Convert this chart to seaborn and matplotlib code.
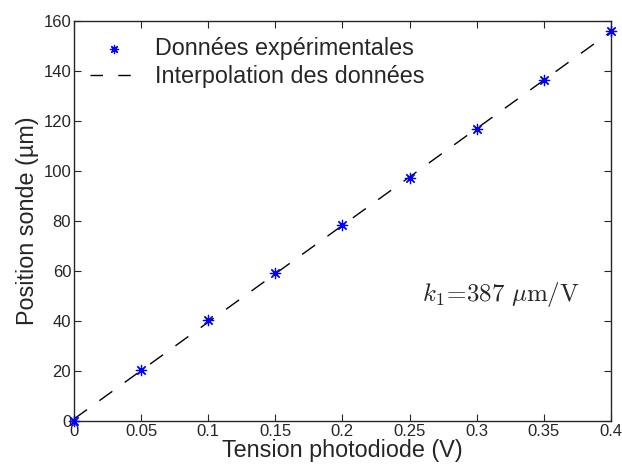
import numpy as np
import pandas as pd
import matplotlib
matplotlib.use("Agg")
import matplotlib.pyplot as plt
import seaborn as sns

tension = [0.0, 0.05, 0.10, 0.15, 0.20, 0.25, 0.30, 0.35, 0.40]
position = [0.0, 20.2, 40.2, 59.2, 78.3, 97.3, 116.6, 136.2, 156.0]
k1 = 387
xticks = [0, 0.05, 0.1, 0.15, 0.2, 0.25, 0.3, 0.35, 0.4]
xticklabels = ["0", "0.05", "0.1", "0.15", "0.2", "0.25", "0.3", "0.35", "0.4"]
yticks = [0, 20, 40, 60, 80, 100, 120, 140, 160]

df = pd.DataFrame({"x": tension, "y": position})
intercept = np.mean(position) - k1 * np.mean(tension)
fit = pd.DataFrame({"x": [tension[0], tension[-1]]})
fit["y"] = k1 * fit["x"] + intercept

sns.set_style("ticks")
plt.rcParams["font.family"] = ["Liberation Sans", "DejaVu Sans"]
plt.rcParams["mathtext.fontset"] = "cm"

fig = plt.figure(figsize=(6.22, 4.68), dpi=100)
ax = fig.add_axes([0.119, 0.1004, 0.863, 0.855])

sns.scatterplot(data=df, x="x", y="y", ax=ax, marker=(8, 2, 0), color=(0, 0, 1),
                s=55, linewidth=0.9, edgecolor=(0, 0, 1),
                label="Données expérimentales", zorder=3, clip_on=False)
sns.lineplot(data=fit, x="x", y="y", ax=ax, color="black", linewidth=1.0,
             dashes=False, label="Interpolation des données", zorder=2)
ax.lines[-1].set_dashes([11.5, 11])

ax.set_xlim(0, 0.4)
ax.set_ylim(0, 160)
ax.set_xticks(xticks)
ax.set_xticklabels(xticklabels)
ax.set_yticks(yticks)
ax.tick_params(direction="in", top=True, right=True, labelsize=12,
               length=5, width=0.8, pad=2)
for sp in ax.spines.values():
    sp.set_visible(True)
    sp.set_linewidth(1.0)
ax.set_xlabel("Tension photodiode (V)", fontsize=16.8, labelpad=0)
ax.set_ylabel("Position sonde (µm)", fontsize=16.8, labelpad=3)

ax.text(0.259, 50.5, r"$k_1\!=\!387\ \mu\mathrm{m/V}$", fontsize=18,
        va="center", ha="left")

leg = ax.legend(loc="upper left", frameon=False, fontsize=16.8,
                handlelength=2.0, borderaxespad=0.3, borderpad=0.4,
                handletextpad=0.75, labelspacing=0.2)
for h in leg.legend_handles:
    try:
        h.set_sizes([35])
    except AttributeError:
        h.set_dashes([9, 11])

fig.savefig("out.png", dpi=100)
